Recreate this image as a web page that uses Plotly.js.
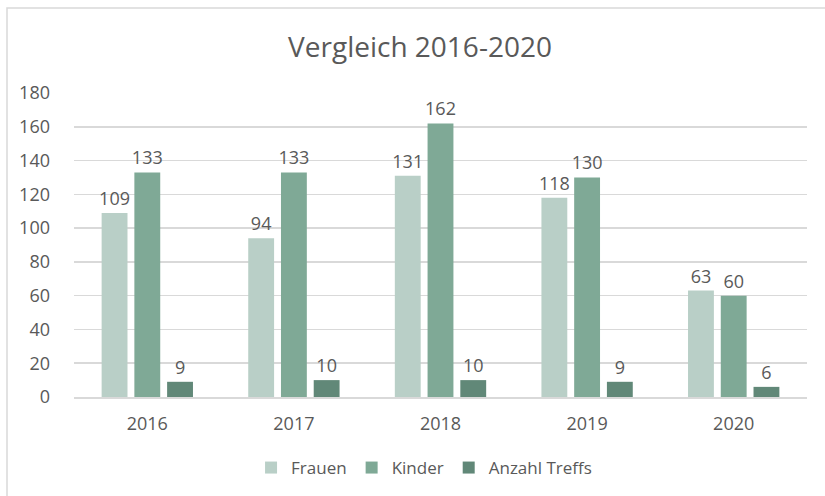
<!DOCTYPE html>
<html><head><meta charset="utf-8">
<script src="https://cdn.plot.ly/plotly-3.0.1.min.js"></script>
<style>html,body{margin:0;padding:0;background:#fff;}#chart{width:825px;height:496px;}</style>
</head><body><div id="chart"></div>
<script>
var years = ['2016', '2017', '2018', '2019', '2020'];
var frauen = [109, 94, 131, 118, 63];
var kinder = [133, 133, 162, 130, 60];
var treffs = [9, 10, 10, 9, 6];
var seriesNames = ['Frauen', 'Kinder', 'Anzahl Treffs'];
var yTicks = [0, 20, 40, 60, 80, 100, 120, 140, 160, 180];

var colors = ['#b9cfc7', '#7fa996', '#618878'];
var font = 'Open Sans, Noto Sans, sans-serif';
var gray = '#595959';
function mk(name, vals, c) {
  return {type: 'bar', name: name, x: years, y: vals, marker: {color: c},
    text: vals.map(String), textposition: 'outside', cliponaxis: false, constraintext: 'none',
    textfont: {family: font, size: 18, color: gray}, hoverinfo: 'none'};
}
var data = [mk(seriesNames[0], frauen, colors[0]), mk(seriesNames[1], kinder, colors[1]), mk(seriesNames[2], treffs, colors[2])];
var L = 74, T = 93, W = 733, H = 304;
var layout = {
  width: 825, height: 496,
  margin: {l: L, r: 825 - L - W, t: T, b: 496 - T - H},
  paper_bgcolor: '#fff', plot_bgcolor: '#fff',
  font: {family: font, color: gray},
  title: {text: 'Vergleich 2016-2020', font: {family: font, size: 28, color: gray},
    x: 420/825, xanchor: 'center', xref: 'container', y: 1 - 47/496, yanchor: 'middle', yref: 'container'},
  barmode: 'group', bargap: 0.33, bargroupgap: 0.21,
  xaxis: {type: 'category', tickfont: {size: 18, color: gray}, showline: true, linecolor: '#d9d9d9', linewidth: 1.5,
    ticks: '', ticklabelstandoff: 10, showgrid: false, zeroline: false},
  yaxis: {range: [0, 180], tickvals: yTicks, ticktext: yTicks.map(String), tickfont: {size: 18, color: gray},
    showgrid: true, gridcolor: '#d9d9d9', gridwidth: 1.5, zeroline: false, showline: false, ticks: '', ticklabelstandoff: 23},
  showlegend: true,
  legend: {orientation: 'h', x: 0.514, xref: 'container', xanchor: 'center', y: 1 - 468/496, yref: 'container', yanchor: 'middle',
    font: {size: 17, color: gray}, itemwidth: 30, traceorder: 'normal'},
  shapes: [{type: 'rect', xref: 'paper', yref: 'paper', x0: (7 - L)/W, x1: (835 - L)/W, y0: (T + H - 505)/H, y1: (T + H - 8)/H,
    line: {color: '#d9d9d9', width: 1.5}, fillcolor: 'rgba(0,0,0,0)', layer: 'below'}]
};
Plotly.newPlot('chart', data, layout, {displayModeBar: false, staticPlot: true});
</script></body></html>
